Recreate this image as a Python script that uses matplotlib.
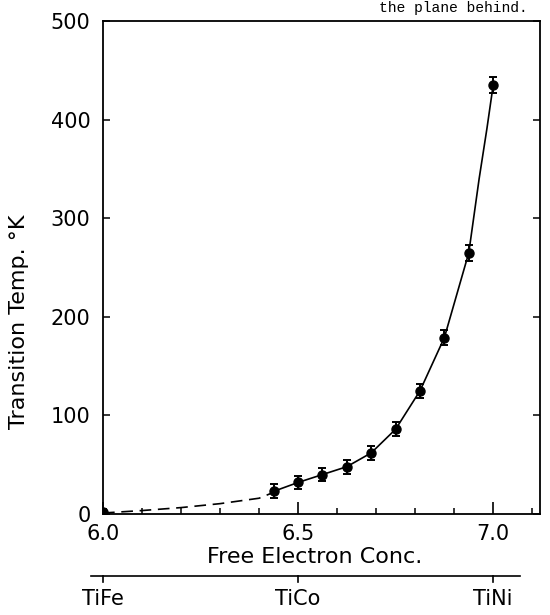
import matplotlib
matplotlib.use('Agg')
import matplotlib.pyplot as plt
from matplotlib.transforms import blended_transform_factory
from matplotlib.ticker import MultipleLocator

# ---- data ----
conc = [6.0, 6.4375, 6.5, 6.5625, 6.625, 6.6875, 6.75, 6.8125, 6.875, 6.9375, 7.0]
temp = [2, 23, 32, 40, 48, 62, 86, 125, 179, 265, 435]
err = [3, 7, 7, 7, 7, 7, 7, 7, 8, 8, 8]

dash_x = [6.0, 6.1, 6.2, 6.3, 6.4, 6.4375]
dash_y = [1, 3.5, 6.5, 10.5, 16, 22]
solid_x = [6.4375, 6.5, 6.5625, 6.625, 6.6875, 6.75, 6.8125, 6.875, 6.9375, 6.964, 6.984, 7.0]
solid_y = [23, 32, 40, 48, 62, 86, 125, 179, 265, 340, 391, 435]

xtick_vals = [6.0, 6.5, 7.0]
xtick_labels = ['6.0', '6.5', '7.0']
ytick_vals = [0, 100, 200, 300, 400, 500]
compounds = ['TiFe', 'TiCo', 'TiNi']
compound_x = [6.0, 6.5, 7.0]

plt.rcParams['font.family'] = ['DejaVu Sans']

fig = plt.figure(figsize=(5.5, 6.15), dpi=100)
W, H = 550, 615
left, right, top, bottom = 103, 540, 21, 514
ax = fig.add_axes([left / W, 1 - bottom / H, (right - left) / W, (bottom - top) / H])

ax.plot(dash_x, dash_y, color='black', lw=1.2, dashes=(7, 4))
ax.plot(solid_x, solid_y, color='black', lw=1.2)
ax.errorbar(conc, temp, yerr=err, fmt='o', color='black', ms=6.5,
            capsize=2.8, elinewidth=1.4, capthick=1.4)

ax.set_xlim(6.0, 7.12)
ax.set_ylim(0, 500)

ax.set_xticks(xtick_vals)
ax.set_xticklabels(xtick_labels)
ax.xaxis.set_minor_locator(MultipleLocator(0.1))
ax.set_yticks(ytick_vals)
ax.set_yticklabels([str(v) for v in ytick_vals])

ax.tick_params(axis='x', which='major', direction='in', length=9, width=1.2,
               labelsize=15, pad=7, top=False)
ax.tick_params(axis='x', which='minor', direction='in', length=4.5, width=1.1, top=False)
ax.tick_params(axis='y', which='major', direction='in', length=5, width=1.1,
               labelsize=15, pad=9, right=True)

for s in ax.spines.values():
    s.set_linewidth(1.3)

ax.set_ylabel('Transition Temp. °K', fontsize=16)
ax.yaxis.set_label_coords(-0.17, 0.39)
ax.set_xlabel('Free Electron Conc.', fontsize=16, va='center')
ax.xaxis.set_label_coords(0.485, -0.088)

# secondary compound scale below the axis
tr = blended_transform_factory(ax.transData, ax.transAxes)
yline = -0.125
ax.plot([5.97, 7.07], [yline, yline], color='black', lw=1.2, transform=tr, clip_on=False)
for cx, name in zip(compound_x, compounds):
    ax.plot([cx, cx], [yline, yline - 0.013], color='black', lw=1.2, transform=tr, clip_on=False)
    ax.text(cx, yline - 0.047, name, transform=tr, ha='center', va='center', fontsize=15)

# fragment of page text at the top
fig.text(0.96, 0.999, 'the plane behind.', ha='right', va='top',
         family='Liberation Mono', fontsize=10.5)

fig.savefig('out.png', dpi=100)
